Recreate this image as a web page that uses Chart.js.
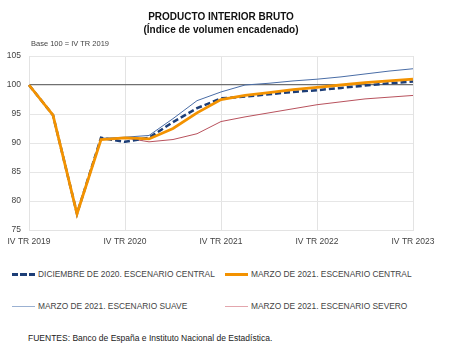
<!DOCTYPE html>
<html>
<head>
<meta charset="utf-8">
<script src="https://cdn.jsdelivr.net/npm/chart.js@4"></script>
<style>
  body { margin: 0; background: #fff; font-family: "Liberation Sans", Arial, sans-serif; color: #333; }
  #wrap { position: relative; width: 450px; height: 351px; overflow: hidden; }
  #chart { position: absolute; left: 0; top: 0; }
  .title { position: absolute; left: 0; width: 442px; text-align: center; font-weight: bold; font-size: 10px; color: #111; }
  .note { position: absolute; font-size: 7.5px; color: #444; }
  .legend-item { position: absolute; font-size: 8.4px; color: #444; white-space: nowrap; line-height: 10px; }
  .legend-item .swatch { position: absolute; left: 0; top: 5px; width: 23px; }
  .legend-item span.label { position: absolute; left: 26px; top: 0; }
  .footer { position: absolute; left: 28px; top: 333px; font-size: 8.5px; color: #222; }
</style>
</head>
<body>
<div id="wrap">
  <canvas id="chart" width="450" height="260"></canvas>
  <div class="title" style="top:11px">PRODUCTO INTERIOR BRUTO</div>
  <div class="title" style="top:24px">(Índice de volumen encadenado)</div>
  <div class="note" style="left:31px; top:39px">Base 100 = IV TR 2019</div>
  <div id="legend"></div>
  <div class="footer">FUENTES: Banco de España e Instituto Nacional de Estadística.</div>
</div>
<script>
const quarters = [
  "IV TR 2019", "I TR 2020", "II TR 2020", "III TR 2020", "IV TR 2020",
  "I TR 2021", "II TR 2021", "III TR 2021", "IV TR 2021",
  "I TR 2022", "II TR 2022", "III TR 2022", "IV TR 2022",
  "I TR 2023", "II TR 2023", "III TR 2023", "IV TR 2023"
];

const dicCentral = [100, 94.8, 77.8, 90.9, 90.2, 90.9, 93.6, 96.0, 97.7, 98.0, 98.4, 98.8, 99.1, 99.5, 99.9, 100.3, 100.6];
const marCentral = [100, 94.8, 77.8, 90.6, 90.9, 90.7, 92.5, 95.2, 97.5, 98.2, 98.7, 99.2, 99.6, 100.0, 100.4, 100.7, 101.0];
const marSuave = [100, 94.8, 77.8, 90.8, 91.0, 91.3, 94.2, 97.3, 98.8, 100.0, 100.3, 100.7, 101.0, 101.4, 101.9, 102.4, 102.8];
const marSevero = [100, 94.8, 77.8, 90.6, 90.9, 90.2, 90.6, 91.6, 93.7, 94.5, 95.2, 95.9, 96.6, 97.1, 97.6, 97.9, 98.2];

const yTicks = [75, 80, 85, 90, 95, 100, 105];

const series = [
  { label: "DICIEMBRE DE 2020. ESCENARIO CENTRAL", data: dicCentral, color: "#1d3e77", legendColor: "#1d3e77", width: 2.5, dash: [6, 3], order: 1 },
  { label: "MARZO DE 2021. ESCENARIO CENTRAL", data: marCentral, color: "#f39200", legendColor: "#f39200", width: 2.8, dash: [], order: 0 },
  { label: "MARZO DE 2021. ESCENARIO SUAVE", data: marSuave, color: "#4a6da6", legendColor: "#9bb1d2", width: 1, dash: [], order: 2 },
  { label: "MARZO DE 2021. ESCENARIO SEVERO", data: marSevero, color: "#b8525d", legendColor: "#e3a6ad", width: 1, dash: [], order: 3 }
];

function renderLegend() {
  const legend = document.getElementById("legend");
  const spots = [[12, 269], [225, 269], [12, 301], [225, 301]];
  legend.innerHTML = series
    .map((s, i) => {
      const h = s.width > 2 ? 3 : 1.2;
      const line = s.dash.length
        ? `background: repeating-linear-gradient(90deg, ${s.legendColor} 0 6px, transparent 6px 8.5px); height:${h}px; margin-top:-1px;`
        : `background:${s.legendColor}; height:${h}px; margin-top:${h > 2 ? -1 : 0}px;`;
      return `
    <div class="legend-item" style="left:${spots[i][0]}px; top:${spots[i][1]}px">
      <div class="swatch" style="${line}"></div>
      <span class="label">${s.label}</span>
    </div>`;
    })
    .join("");
}

const ctx = document.getElementById("chart").getContext("2d");
new Chart(ctx, {
  type: "line",
  data: {
    labels: quarters,
    datasets: series.map((s) => ({
      label: s.label,
      data: s.data,
      borderColor: s.color,
      backgroundColor: s.color,
      borderWidth: s.width,
      borderDash: s.dash,
      order: s.order,
      pointRadius: 0,
      tension: 0,
      fill: false
    }))
  },
  options: {
    responsive: false,
    animation: false,
    layout: { padding: { top: 56, right: 37, left: 0, bottom: 0 } },
    plugins: {
      legend: { display: false },
      tooltip: { enabled: false }
    },
    scales: {
      x: {
        afterFit: (scale) => { scale.height = 30; },
        border: { color: "#e3e3e3" },
        grid: {
          drawTicks: false,
          color: (c) => (c.index % 4 === 0 ? "#e3e3e3" : "rgba(0,0,0,0)")
        },
        ticks: {
          autoSkip: false,
          maxRotation: 0,
          padding: 7,
          color: "#444",
          font: { family: "Liberation Sans", size: 8.5 },
          callback: function (value, index) {
            return index % 4 === 0 ? quarters[index] : "";
          }
        }
      },
      y: {
        min: 75,
        max: 105,
        afterFit: (scale) => { scale.width = 29; },
        afterBuildTicks: (scale) => { scale.ticks = yTicks.map((v) => ({ value: v })); },
        border: { color: "#e3e3e3" },
        grid: {
          drawTicks: false,
          color: (c) => (c.tick && c.tick.value === 100 ? "#707070" : "#e6e6e6"),
          lineWidth: (c) => (c.tick && c.tick.value === 100 ? 1.3 : 1)
        },
        ticks: {
          padding: 8,
          color: "#444",
          font: { family: "Liberation Sans", size: 8.5 }
        }
      }
    }
  }
});

renderLegend();
</script>
</body>
</html>
